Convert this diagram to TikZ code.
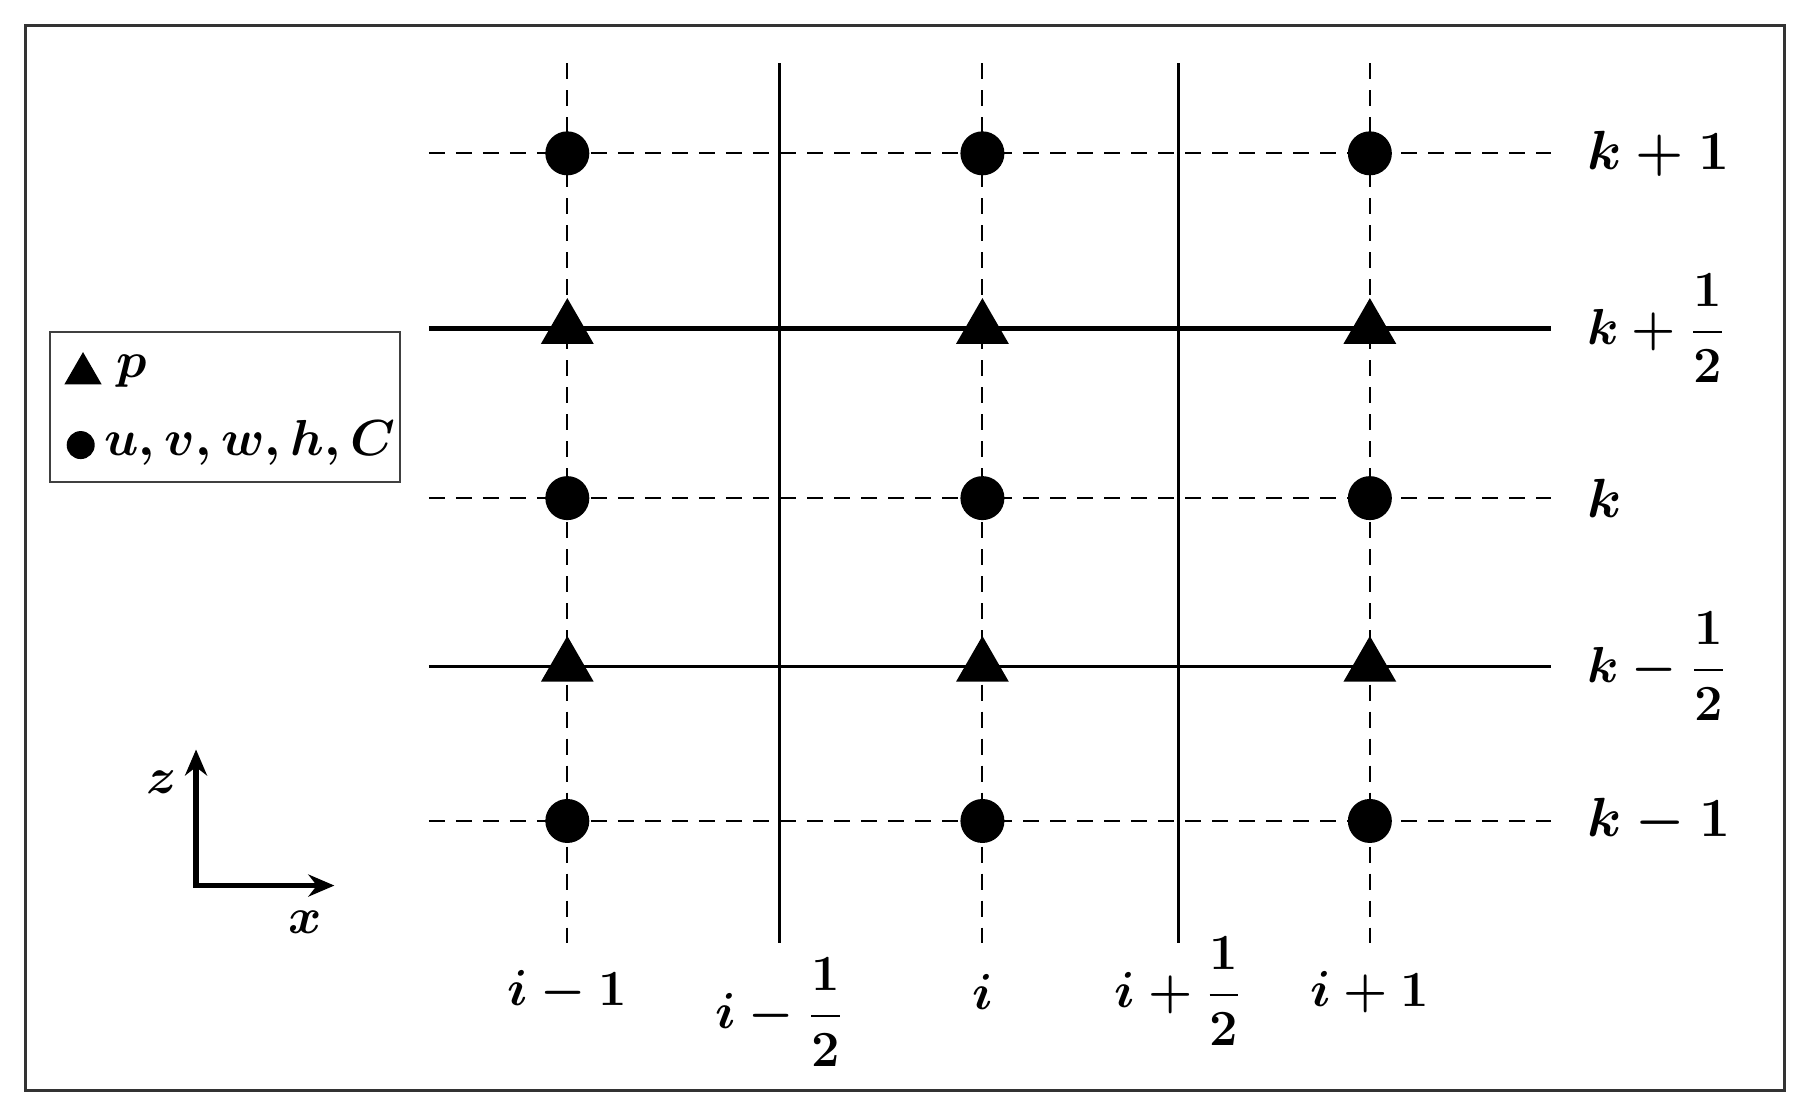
\documentclass[tikz,border=0pt]{standalone}
\usepackage{amsmath}
\usetikzlibrary{arrows.meta,shapes.geometric}

\begin{document}
\begin{tikzpicture}[x=0.1153mm, y=-0.1153mm,
                    frame/.style = { draw=black!80, line width=0.3mm },
                    solidline/.style = { black, line width=0.35mm },
                    halfline/.style = { solidline, line width=0.45mm },
                    dashline/.style = { black, line width=0.2mm, dash pattern=on 1.6mm off 1.1mm },
                    dot/.style = { circle, fill=black, inner sep=0pt, minimum size=4.4mm },
                    tri/.style = { regular polygon, regular polygon sides=3, fill=black, inner sep=0pt, minimum size=6.1mm },
                    lab/.style = { font=\Large\boldmath, inner sep=0pt },
                    rowlabel/.style = { lab, anchor=west },
                    bigrow/.style = { rowlabel, scale=1.09 },
                    collabel/.style = { lab, anchor=center },
                    axis/.style = { line width=0.55mm, {Stealth[length=2.6mm,width=2.2mm]}-{Stealth[length=2.6mm,width=2.2mm]} }]

  \useasboundingbox (0,0) rectangle (1568,970);
  \draw[frame] (22,22) rectangle (1548,946);

  \foreach \n/\x in {a/492,b/676,c/852,d/1022,e/1188} {
    \coordinate (\n-top) at (\x,55);
    \coordinate (\n-bot) at (\x,818);
  }
  \foreach \n/\y in {1/133,2/285,3/432,4/578,5/712} {
    \coordinate (r\n-w) at (372,\y);
    \coordinate (r\n-e) at (1345,\y);
  }

  \draw[dashline] (r1-w) -- (r1-e);
  \draw[dashline] (r3-w) -- (r3-e);
  \draw[dashline] (r5-w) -- (r5-e);
  \draw[halfline] (r2-w) -- (r2-e);
  \draw[solidline] (r4-w) -- (r4-e);

  \draw[dashline] (a-top) -- (a-bot);
  \draw[dashline] (c-top) -- (c-bot);
  \draw[dashline] (e-top) -- (e-bot);
  \draw[solidline] (b-top) -- (b-bot);
  \draw[solidline] (d-top) -- (d-bot);

  \foreach \c in {a,c,e} {
    \node[dot] (\c1) at (\c-top |- r1-w) {};
    \node[tri] (\c2) at (\c-top |- r2-w) {};
    \node[dot] (\c3) at (\c-top |- r3-w) {};
    \node[tri] (\c4) at (\c-top |- r4-w) {};
    \node[dot] (\c5) at (\c-top |- r5-w) {};
  }

  \node[bigrow] (kplusone) at (1376,133) {$k+1$};
  \node[rowlabel] (kplushalf) at (1376,285) {$k+\dfrac{1}{2}$};
  \node[bigrow] (kzero) at (1376,432) {$k$};
  \node[rowlabel] (kminushalf) at (1376,578) {$k-\dfrac{1}{2}$};
  \node[bigrow] (kminusone) at (1376,712) {$k-1$};

  \node[collabel] (iminusone) at (492,860) {$i-1$};
  \node[collabel] (iminushalf) at (676,878) {$i-\dfrac{1}{2}$};
  \node[collabel] (izero) at (852,860) {$i$};
  \node[collabel] (iplushalf) at (1022,860) {$i+\dfrac{1}{2}$};
  \node[collabel] (iplusone) at (1188,860) {$i+1$};

  \node[draw=black!75, line width=0.25mm, minimum width=35mm, minimum height=15mm, inner sep=0pt] (legend) at (195,353) {};
  \node[tri, minimum size=4.3mm] (legtri) at (72,324) {};
  \node[rowlabel] (legp) at (100,322) {$p$};
  \node[dot, minimum size=2.8mm] (legdot) at (70,386) {};
  \node[rowlabel] (legvars) at (90,384) {$u, v, w, h, C$};

  \coordinate (origin) at (170,768);
  \coordinate (ztip) at (170,650);
  \coordinate (xtip) at (290,768);
  \draw[axis] (ztip) |- (xtip);
  \node[lab] (zname) at (140,678) {$z$};
  \node[lab] (xname) at (265,800) {$x$};
\end{tikzpicture}
\end{document}
